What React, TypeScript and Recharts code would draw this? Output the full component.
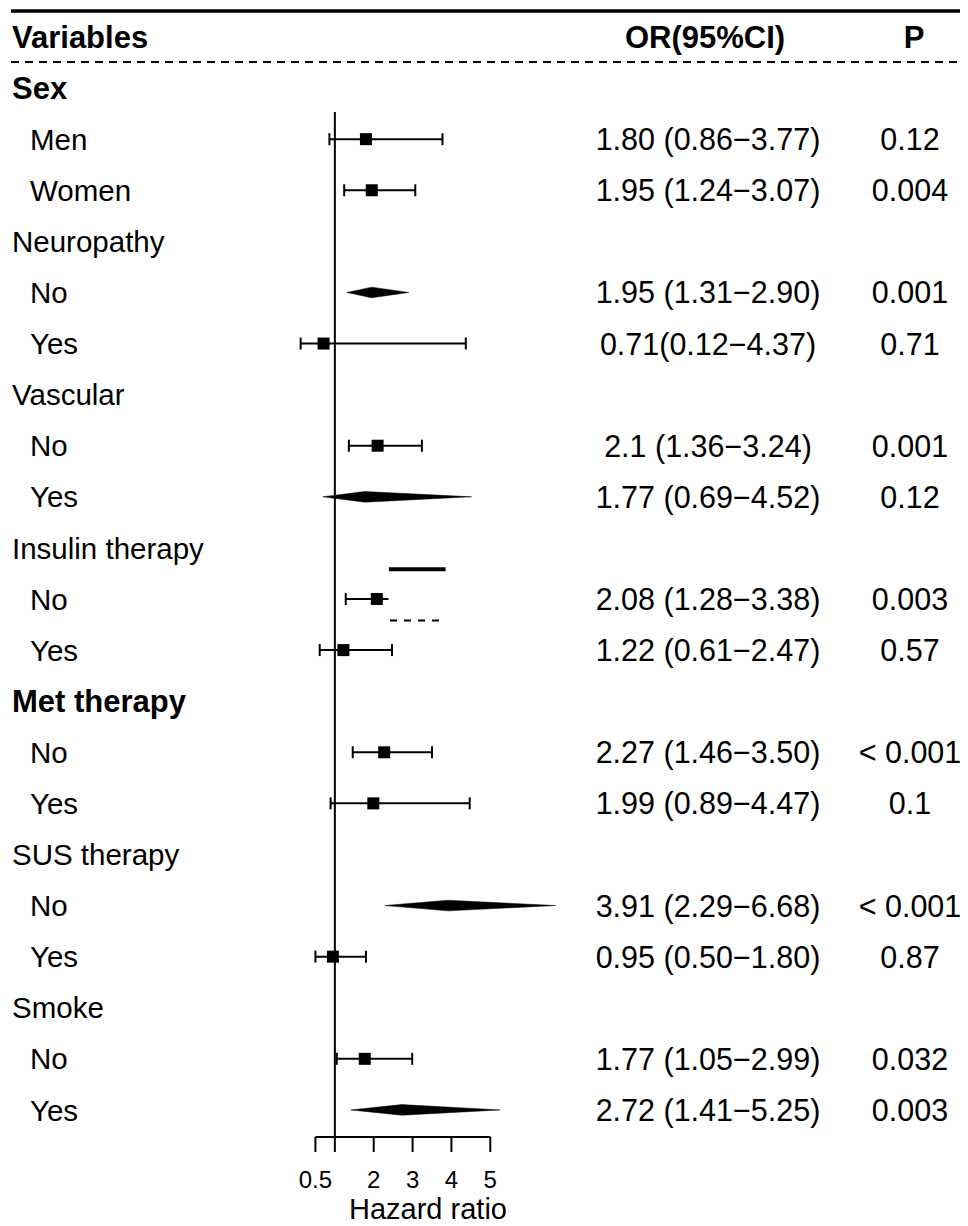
import { ComposedChart, XAxis, YAxis, Scatter, ErrorBar, Area, ReferenceLine } from 'recharts'

const FONT = '"Liberation Sans", Arial, Helvetica, sans-serif'

// one entry per table row, top to bottom
const rowLabels = [
  'Sex', 'Men', 'Women',
  'Neuropathy', 'No', 'Yes',
  'Vascular', 'No', 'Yes',
  'Insulin therapy', 'No', 'Yes',
  'Met therapy', 'No', 'Yes',
  'SUS therapy', 'No', 'Yes',
  'Smoke', 'No', 'Yes',
]
const groupRows = [0, 3, 6, 9, 12, 15, 18]
const boldRows = [0, 12]

const orTexts = [
  '', '1.80 (0.86−3.77)', '1.95 (1.24−3.07)',
  '', '1.95 (1.31−2.90)', '0.71(0.12−4.37)',
  '', '2.1 (1.36−3.24)', '1.77 (0.69−4.52)',
  '', '2.08 (1.28−3.38)', '1.22 (0.61−2.47)',
  '', '2.27 (1.46−3.50)', '1.99 (0.89−4.47)',
  '', '3.91 (2.29−6.68)', '0.95 (0.50−1.80)',
  '', '1.77 (1.05−2.99)', '2.72 (1.41−5.25)',
]
const pTexts = [
  '', '0.12', '0.004',
  '', '0.001', '0.71',
  '', '0.001', '0.12',
  '', '0.003', '0.57',
  '', '< 0.001', '0.1',
  '', '< 0.001', '0.87',
  '', '0.032', '0.003',
]

const estimates = [null, 1.80, 1.95, null, 1.95, 0.71, null, 2.1, 1.77, null, 2.08, 1.22, null, 2.27, 1.99, null, 3.91, 0.95, null, 1.77, 2.72]
const lowers = [null, 0.86, 1.24, null, 1.31, 0.12, null, 1.36, 0.69, null, 1.28, 0.61, null, 1.46, 0.89, null, 2.29, 0.50, null, 1.05, 1.41]
const uppers = [null, 3.77, 3.07, null, 2.90, 4.37, null, 3.24, 4.52, null, 3.38, 2.47, null, 3.50, 4.47, null, 6.68, 1.80, null, 2.99, 5.25]

// rows drawn as diamonds instead of square + whisker
const diamondRows = [4, 8, 16, 20]

// the Insulin therapy / No whisker is cut short in the figure, with two stray segments beside it
const cutRow = 10
const cutUpper = 2.38
const strayLine = { from: 2.39, to: 3.85, row: 9.42 }
const strayDashed = { from: 2.42, to: 3.68, row: 10.42 }

const xTicks = [0.5, 1, 2, 3, 4, 5]
const rowTicks = [-1, ...rowLabels.map((_, i) => i)]

const DIAMOND_H = 0.104
const CAP_H = 0.117

const squares = estimates
  .map((est, row) => ({ est, row }))
  .filter(d => d.est !== null && !diamondRows.includes(d.row) && d.row !== cutRow)
  .map(({ est, row }) => ({
    x: est as number,
    y: row,
    err: [(est as number) - (lowers[row] as number), (uppers[row] as number) - (est as number)],
  }))

const cutSquare = [{ x: estimates[cutRow] as number, y: cutRow }]

const diamonds = diamondRows.map(row => ({
  row,
  pts: [
    { x: lowers[row] as number, band: [row, row] },
    { x: estimates[row] as number, band: [row - DIAMOND_H, row + DIAMOND_H] },
    { x: uppers[row] as number, band: [row, row] },
  ],
}))

function RowTick(props: any) {
  const { y, payload } = props
  const r = payload.value as number
  if (r === -1) {
    return (
      <g>
        <line x1={3} x2={960} y1={y - 26} y2={y - 26} stroke="#000" strokeWidth={3.5} />
        <line x1={3} x2={960} y1={y + 25} y2={y + 25} stroke="#000" strokeWidth={2} strokeDasharray="8 6" />
        <text x={4} y={y} dy="0.36em" fontSize={31} fontWeight="bold" fill="#000">Variables</text>
        <text x={697} y={y} dy="0.36em" fontSize={31} fontWeight="bold" fill="#000" textAnchor="middle">OR(95%CI)</text>
        <text x={906} y={y} dy="0.36em" fontSize={31} fontWeight="bold" fill="#000" textAnchor="middle">P</text>
      </g>
    )
  }
  const isGroup = groupRows.includes(r)
  const isBold = boldRows.includes(r)
  return (
    <g>
      <text
        x={isGroup ? 4 : 22}
        y={y}
        dy="0.36em"
        fontSize={isBold ? 31 : 29.5}
        fontWeight={isBold ? 'bold' : 'normal'}
        fill="#000"
      >
        {rowLabels[r]}
      </text>
      {orTexts[r] && (
        <text x={700} y={y} dy="0.36em" fontSize={30.5} fill="#000" textAnchor="middle">{orTexts[r]}</text>
      )}
      {pTexts[r] && (
        <text x={902} y={y} dy="0.36em" fontSize={30.5} fill="#000" textAnchor="middle">{pTexts[r]}</text>
      )}
    </g>
  )
}

function AxisTick(props: any) {
  const { x, y, payload } = props
  if (payload.value === 1) return <g />
  return (
    <text x={x} y={y} dy={34} fontSize={24} fill="#000" textAnchor="middle">{payload.value}</text>
  )
}

const squareShape = (props: any) => (
  <rect x={props.cx - 6} y={props.cy - 6} width={12} height={12} fill="#000" />
)

export default function App() {
  return (
    <div style={{ width: 960, height: 1218, fontFamily: FONT, background: '#fff' }}>
      <ComposedChart width={960} height={1218} margin={{ top: 29, right: 400, bottom: 4, left: 228 }}>
        <XAxis
          type="number"
          dataKey="x"
          domain={[0, 7]}
          allowDataOverflow
          ticks={xTicks}
          interval={0}
          axisLine={false}
          tickLine={{ stroke: '#000', strokeWidth: 2 }}
          tickSize={15}
          height={85}
          tick={AxisTick}
          label={{ value: 'Hazard ratio', position: 'insideBottom', offset: 3, dx: -4, fill: '#000', fontSize: 29 }}
        />
        <YAxis
          type="number"
          dataKey="y"
          domain={[-1, 20.53]}
          allowDataOverflow
          reversed
          ticks={rowTicks}
          interval={0}
          axisLine={false}
          tickLine={false}
          width={60}
          tick={RowTick}
        />
        <ReferenceLine segment={[{ x: 1, y: 0.47 }, { x: 1, y: 20.53 }]} stroke="#000" strokeWidth={2} ifOverflow="visible" />
        <ReferenceLine segment={[{ x: 0.5, y: 20.53 }, { x: 5, y: 20.53 }]} stroke="#000" strokeWidth={2} ifOverflow="visible" />

        <ReferenceLine segment={[{ x: lowers[cutRow] as number, y: cutRow }, { x: cutUpper, y: cutRow }]} stroke="#000" strokeWidth={2} />
        <ReferenceLine
          segment={[{ x: lowers[cutRow] as number, y: cutRow - CAP_H }, { x: lowers[cutRow] as number, y: cutRow + CAP_H }]}
          stroke="#000"
          strokeWidth={2}
        />
        <ReferenceLine segment={[{ x: strayLine.from, y: strayLine.row }, { x: strayLine.to, y: strayLine.row }]} stroke="#000" strokeWidth={4} />
        <ReferenceLine
          segment={[{ x: strayDashed.from, y: strayDashed.row }, { x: strayDashed.to, y: strayDashed.row }]}
          stroke="#000"
          strokeWidth={2}
          strokeDasharray="7 7"
        />

        {diamonds.map(d => (
          <Area
            key={d.row}
            data={d.pts}
            dataKey="band"
            type="linear"
            stroke="#000"
            strokeWidth={0.5}
            fill="#000"
            fillOpacity={1}
            dot={false}
            activeDot={false}
            isAnimationActive={false}
          />
        ))}

        <Scatter data={squares} dataKey="y" shape={squareShape} isAnimationActive={false}>
          <ErrorBar dataKey="err" direction="x" width={6} stroke="#000" strokeWidth={2} isAnimationActive={false} />
        </Scatter>
        <Scatter data={cutSquare} dataKey="y" shape={squareShape} isAnimationActive={false} />
      </ComposedChart>
    </div>
  )
}
